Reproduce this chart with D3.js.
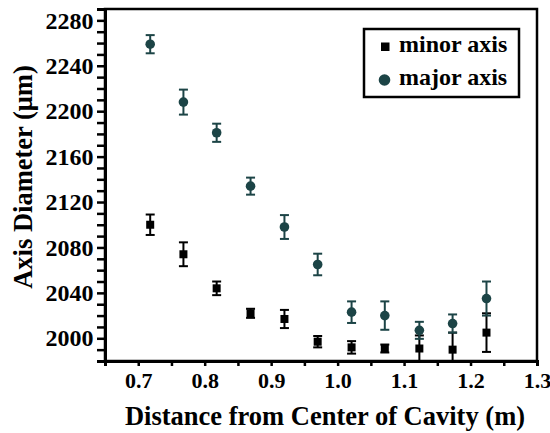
<!DOCTYPE html>
<html>
<head>
<meta charset="utf-8">
<script src="https://cdn.jsdelivr.net/npm/d3@7"></script>
<style>
  html, body { margin: 0; padding: 0; background: #fff; }
  svg { display: block; }
  text { font-family: "Liberation Serif", "Times New Roman", serif; font-weight: bold; fill: #000; }
</style>
</head>
<body>
<svg id="chart" width="550" height="433"></svg>
<script>
// Distance from the cavity centre (m)
const distance = [0.718, 0.768, 0.818, 0.869, 0.920, 0.970, 1.021, 1.071, 1.123, 1.173, 1.224];

// Minor axis diameter (µm) and its error
const minorValue = [2100, 2074, 2044, 2022, 2017, 1997, 1992, 1991, 1991, 1990, 2005];
const minorError = [9, 10.5, 6, 4, 8, 5, 5.5, 3.5, 11.5, 15, 17];

// Major axis diameter (µm) and its error
const majorValue = [2259, 2208, 2181, 2134, 2098, 2065, 2023, 2020, 2007, 2013, 2035];
const majorError = [8, 11, 8, 7.5, 10.5, 9.5, 9.5, 12.5, 7.5, 8, 15];

const xTicks = [0.7, 0.8, 0.9, 1.0, 1.1, 1.2, 1.3];
const yTicks = [2000, 2040, 2080, 2120, 2160, 2200, 2240, 2280];

const seriesNames = ["minor axis", "major axis"];
const seriesColors = ["#000000", "#1c4446"];

const svg = d3.select("#chart");
const m = { left: 105, right: 537, top: 9, bottom: 361 };

const x = d3.scaleLinear().domain([0.65, 1.3]).range([m.left, m.right]);
const y = d3.scaleLinear().domain([1980, 2290]).range([m.bottom, m.top]);

// Frame
svg.append("rect")
  .attr("x", m.left).attr("y", m.top)
  .attr("width", m.right - m.left).attr("height", m.bottom - m.top)
  .attr("fill", "none").attr("stroke", "#000").attr("stroke-width", 2.5);

// X axis: minor ticks every 0.05, labels every 0.1
const xAxis = d3.axisBottom(x)
  .tickValues(d3.range(0, 14).map(i => +(0.65 + i * 0.05).toFixed(2)))
  .tickSize(5)
  .tickFormat(d => xTicks.some(t => Math.abs(t - d) < 1e-9) ? d3.format(".1f")(d) : "");
const gx = svg.append("g").attr("transform", `translate(0,${m.bottom})`).call(xAxis);
gx.select(".domain").attr("stroke-width", 3);
gx.selectAll(".tick line").attr("stroke-width", 2.5);
gx.selectAll(".tick text").attr("font-size", 22).attr("dy", null).attr("y", 26.5);

// Y axis: ticks every 10, labels every 40
const yAxis = d3.axisLeft(y)
  .tickValues(d3.range(1980, 2291, 10))
  .tickSize(8)
  .tickFormat(d => yTicks.includes(d) ? d : "");
const gy = svg.append("g").attr("transform", `translate(${m.left},0)`).call(yAxis);
gy.select(".domain").attr("stroke-width", 3);
gy.selectAll(".tick line").attr("stroke-width", 2.5);
gy.selectAll(".tick text").attr("font-size", 24).attr("x", -11.5).attr("dy", "0.32em");

// Axis titles
svg.append("text")
  .attr("x", 325).attr("y", 425)
  .attr("text-anchor", "middle").attr("font-size", 26.5)
  .text("Distance from Center of Cavity (m)");
svg.append("text")
  .attr("transform", `translate(32,177) rotate(-90)`)
  .attr("text-anchor", "middle").attr("font-size", 26.5)
  .text("Axis Diameter (μm)");

// Error bars and markers
function drawSeries(values, errors, color, shape) {
  const g = svg.append("g");
  const pts = distance.map((d, i) => ({ d, v: values[i], e: errors[i] }));
  const clip = v => Math.min(y(v), m.bottom);
  g.selectAll("line.bar").data(pts).join("line")
    .attr("x1", p => x(p.d)).attr("x2", p => x(p.d))
    .attr("y1", p => y(p.v + p.e)).attr("y2", p => clip(p.v - p.e))
    .attr("stroke", color).attr("stroke-width", 2);
  g.selectAll("line.capTop").data(pts).join("line")
    .attr("x1", p => x(p.d) - 4.5).attr("x2", p => x(p.d) + 4.5)
    .attr("y1", p => y(p.v + p.e)).attr("y2", p => y(p.v + p.e))
    .attr("stroke", color).attr("stroke-width", 2);
  g.selectAll("line.capBot").data(pts.filter(p => y(p.v - p.e) <= m.bottom)).join("line")
    .attr("x1", p => x(p.d) - 4.5).attr("x2", p => x(p.d) + 4.5)
    .attr("y1", p => y(p.v - p.e)).attr("y2", p => y(p.v - p.e))
    .attr("stroke", color).attr("stroke-width", 2);
  if (shape === "square") {
    g.selectAll("rect.mk").data(pts).join("rect")
      .attr("x", p => x(p.d) - 4).attr("y", p => y(p.v) - 4)
      .attr("width", 8).attr("height", 8).attr("fill", color);
  } else {
    g.selectAll("circle.mk").data(pts).join("circle")
      .attr("cx", p => x(p.d)).attr("cy", p => y(p.v)).attr("r", 4.8).attr("fill", color);
  }
}
drawSeries(minorValue, minorError, seriesColors[0], "square");
drawSeries(majorValue, majorError, seriesColors[1], "circle");

// Legend
const lg = svg.append("g");
lg.append("rect").attr("x", 364).attr("y", 29).attr("width", 155).attr("height", 68)
  .attr("fill", "#fff").attr("stroke", "#000").attr("stroke-width", 2.5);
lg.append("rect").attr("x", 381).attr("y", 42.5).attr("width", 8.5).attr("height", 8.5).attr("fill", seriesColors[0]);
lg.append("circle").attr("cx", 384.5).attr("cy", 80).attr("r", 5.8).attr("fill", seriesColors[1]);
lg.append("text").attr("x", 399).attr("y", 52).attr("font-size", 24).text(seriesNames[0]);
lg.append("text").attr("x", 399).attr("y", 84.5).attr("font-size", 24).text(seriesNames[1]);
</script>
</body>
</html>
